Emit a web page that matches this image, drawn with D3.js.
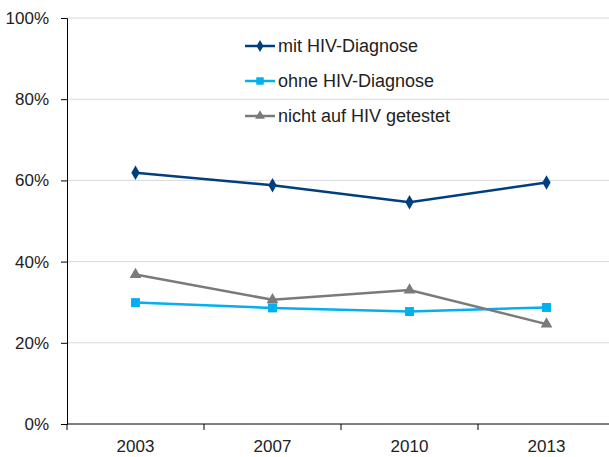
<!DOCTYPE html>
<html>
<head>
<meta charset="utf-8">
<script src="https://cdn.jsdelivr.net/npm/d3@7"></script>
<style>
  body { margin: 0; background: #fff; }
  text { font-family: "Liberation Sans", Arial, sans-serif; fill: #222; }
</style>
</head>
<body>
<div id="chart"></div>
<script>
// data
var years = ["2003", "2007", "2010", "2013"];
var mitDiagnose = [61.9, 58.8, 54.6, 59.5];
var ohneDiagnose = [29.9, 28.6, 27.7, 28.7];
var nichtGetestet = [36.8, 30.6, 33.0, 24.6];
var seriesNames = ["mit HIV-Diagnose", "ohne HIV-Diagnose", "nicht auf HIV getestet"];
var yTicks = [0, 20, 40, 60, 80, 100];

var W = 609, H = 457;
var margin = { top: 18, right: -6, bottom: 33, left: 67 };
var width = W - margin.left - margin.right,
  height = H - margin.top - margin.bottom;

var svg = d3
  .select("#chart")
  .append("svg")
  .attr("width", W)
  .attr("height", H)
  .append("g")
  .attr("transform", "translate(" + margin.left + "," + margin.top + ")");

var x = d3.scaleBand().domain(years).range([0, width]);
var y = d3.scaleLinear().domain([0, 100]).range([height, 0]);

// gridlines
svg
  .append("g")
  .selectAll("line")
  .data(yTicks.slice(1))
  .enter()
  .append("line")
  .attr("x1", 0)
  .attr("x2", width)
  .attr("y1", (d) => y(d))
  .attr("y2", (d) => y(d))
  .attr("stroke", "#d9d9d9")
  .attr("stroke-width", 1);

// y axis
var yAxis = svg
  .append("g")
  .call(
    d3.axisLeft(y).tickValues(yTicks).tickSize(6).tickPadding(12)
      .tickFormat((d) => d + "%")
  );
yAxis.select(".domain").attr("stroke", "#000");
yAxis.selectAll(".tick line").attr("stroke", "#000");
yAxis.selectAll("text").style("font-size", "17px").attr("fill", "#222");

// x axis, ticks between categories
var xAxis = svg.append("g").attr("transform", "translate(0," + height + ")");
xAxis
  .append("line")
  .attr("x1", 0)
  .attr("x2", width)
  .attr("stroke", "#000");
xAxis
  .selectAll(".xt")
  .data(years)
  .enter()
  .append("line")
  .attr("x1", (d) => x(d))
  .attr("x2", (d) => x(d))
  .attr("y1", 0)
  .attr("y2", 6)
  .attr("stroke", "#000");
xAxis
  .selectAll("text")
  .data(years)
  .enter()
  .append("text")
  .attr("x", (d) => x(d) + x.bandwidth() / 2)
  .attr("y", 28)
  .attr("text-anchor", "middle")
  .style("font-size", "17px")
  .text((d) => d);

var series = [
  { name: seriesNames[0], values: mitDiagnose, color: "#003f7d", shape: d3.symbolDiamond, size: 60 },
  { name: seriesNames[1], values: ohneDiagnose, color: "#00b0f0", shape: d3.symbolSquare, size: 80 },
  { name: seriesNames[2], values: nichtGetestet, color: "#7a7a7a", shape: d3.symbolTriangle, size: 60 }
];

var line = d3
  .line()
  .x((d, i) => x(years[i]) + x.bandwidth() / 2)
  .y((d) => y(d));

series.forEach(function (s) {
  svg
    .append("path")
    .datum(s.values)
    .attr("fill", "none")
    .attr("stroke", s.color)
    .attr("stroke-width", 2.5)
    .attr("d", line);
  svg
    .append("g")
    .selectAll("path")
    .data(s.values)
    .enter()
    .append("path")
    .attr("d", d3.symbol().type(s.shape).size(s.size))
    .attr("transform", (d, i) =>
      "translate(" + (x(years[i]) + x.bandwidth() / 2) + "," + y(d) + ")")
    .attr("fill", s.color);
});

// legend
var legend = svg.append("g").attr("transform", "translate(178,28)");
series.forEach(function (s, i) {
  var g = legend.append("g").attr("transform", "translate(0," + i * 35 + ")");
  g.append("line")
    .attr("x1", 0)
    .attr("x2", 30)
    .attr("stroke", s.color)
    .attr("stroke-width", 2.5);
  g.append("path")
    .attr("d", d3.symbol().type(s.shape).size(s.size * 0.7))
    .attr("transform", "translate(15,0)")
    .attr("fill", s.color);
  g.append("text")
    .attr("x", 33)
    .attr("y", 6)
    .style("font-size", "18px")
    .text(s.name);
});
</script>
</body>
</html>
